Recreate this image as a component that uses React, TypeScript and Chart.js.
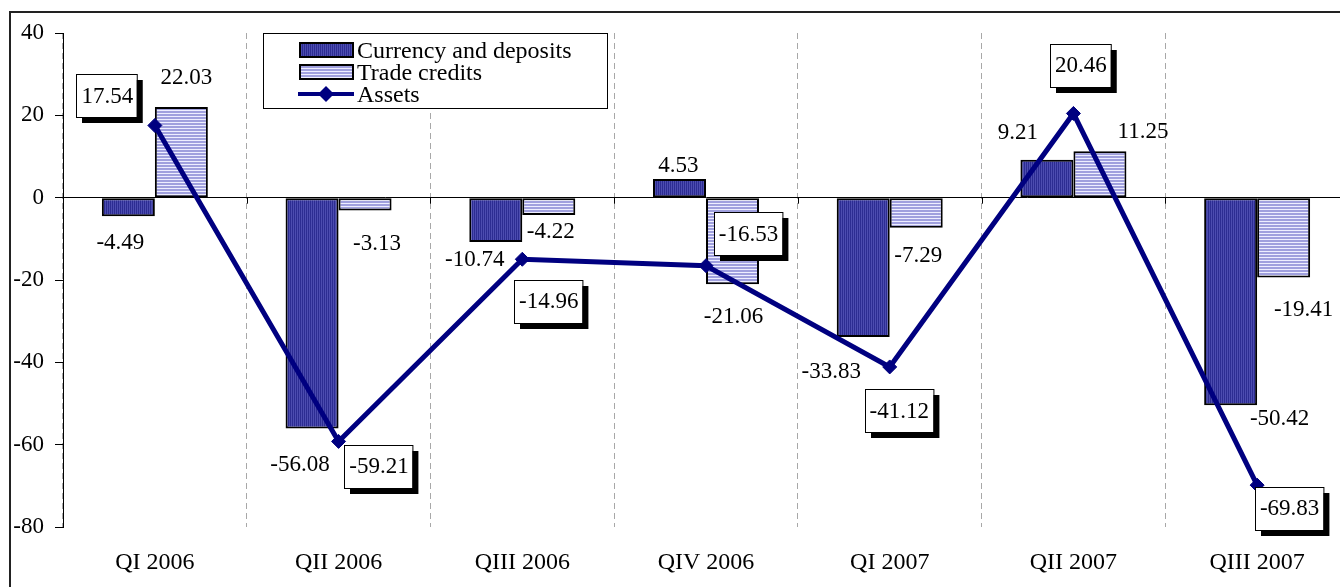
import React, { useEffect, useRef } from "react";
import { Chart, registerables } from "chart.js";

Chart.register(...registerables);

const categories = ["QI 2006", "QII 2006", "QIII 2006", "QIV 2006", "QI 2007", "QII 2007", "QIII 2007"];
const currencyDeposits = [-4.49, -56.08, -10.74, 4.53, -33.83, 9.21, -50.42];
const tradeCredits = [22.03, -3.13, -4.22, -21.06, -7.29, 11.25, -19.41];
const assets = [17.54, -59.21, -14.96, -16.53, -41.12, 20.46, -69.83];
const yTicks = [-80, -60, -40, -20, 0, 20, 40];

// label placement (pixel offsets from the mark), style only
const currencyLabelOffsets = [[-8, 27], [-12, 36], [-21, 18], [-1, -13], [-32, 35], [-29, -27], [49, 14]];
const tradeLabelOffsets = [[5, -29], [12, 33], [2, 17], [1, 33], [2, 28], [43, -19], [20, 32]];
const assetLabelOffsets = [[-48, -30], [40, 25], [26, 42], [42, -32], [9, 44], [7, -48], [32, 23]];

const SERIF = "'Liberation Serif', 'Times New Roman', serif";
const FONT = `23px ${SERIF}`;
const LEGEND_FONT = `24px ${SERIF}`;

function makePattern(kind: "v" | "h"): CanvasPattern | string {
  const c = document.createElement("canvas");
  const g = c.getContext("2d");
  if (!g) return kind === "v" ? "#333399" : "#c0c0ee";
  if (kind === "v") {
    c.width = 2;
    c.height = 2;
    g.fillStyle = "#2c2c92";
    g.fillRect(0, 0, 2, 2);
    g.fillStyle = "#4c4cb0";
    g.fillRect(1, 0, 1, 2);
  } else {
    c.width = 2;
    c.height = 3;
    g.fillStyle = "#a0a0de";
    g.fillRect(0, 0, 2, 3);
    g.fillStyle = "#eeeeff";
    g.fillRect(0, 2, 2, 1);
  }
  return g.createPattern(c, "repeat") as CanvasPattern;
}

const decorPlugin = {
  id: "decor",
  beforeDraw(chart: any) {
    const ctx = chart.ctx;
    ctx.save();
    ctx.fillStyle = "#ffffff";
    ctx.fillRect(0, 0, chart.width, chart.height);
    ctx.strokeStyle = "#222222";
    ctx.lineWidth = 2;
    ctx.beginPath();
    ctx.moveTo(10, chart.height);
    ctx.lineTo(10, 12);
    ctx.lineTo(chart.width, 12);
    ctx.stroke();
    ctx.restore();
  },
  afterDatasetsDraw(chart: any) {
    const ctx = chart.ctx;
    const ys = chart.scales.y;
    const area = chart.chartArea;
    const zeroY = ys.getPixelForValue(0);
    ctx.save();

    // small category ticks below zero line
    const n = categories.length;
    const step = (area.right - area.left) / n;
    ctx.strokeStyle = "#000";
    ctx.lineWidth = 1;
    for (let i = 1; i < n; i++) {
      const x = Math.round(area.left + i * step) + 0.5;
      ctx.beginPath();
      ctx.moveTo(x, zeroY);
      ctx.lineTo(x, zeroY + 6);
      ctx.stroke();
    }

    ctx.font = FONT;
    ctx.fillStyle = "#000";
    ctx.textAlign = "center";
    ctx.textBaseline = "middle";

    const byLabel: Record<string, number> = {};
    chart.data.datasets.forEach((ds: any, i: number) => (byLabel[ds.label] = i));

    const drawPlain = (dsIndex: number, values: number[], offs: number[][]) => {
      const meta = chart.getDatasetMeta(dsIndex);
      meta.data.forEach((el: any, i: number) => {
        ctx.fillText(values[i].toFixed(2), el.x + offs[i][0], el.y + offs[i][1]);
      });
    };
    drawPlain(byLabel["Currency and deposits"], currencyDeposits, currencyLabelOffsets);
    drawPlain(byLabel["Trade credits"], tradeCredits, tradeLabelOffsets);

    const am = chart.getDatasetMeta(byLabel["Assets"]);
    am.data.forEach((el: any, i: number) => {
      const txt = assets[i].toFixed(2);
      const w = ctx.measureText(txt).width + 9;
      const h = 43;
      const cx = el.x + assetLabelOffsets[i][0];
      const cy = el.y + assetLabelOffsets[i][1];
      const x0 = Math.round(cx - w / 2);
      const y0 = Math.round(cy - h / 2);
      ctx.fillStyle = "#000";
      ctx.fillRect(x0 + 6, y0 + 6, w, h);
      ctx.fillStyle = "#fff";
      ctx.fillRect(x0, y0, w, h);
      ctx.strokeStyle = "#000";
      ctx.lineWidth = 1;
      ctx.strokeRect(x0 + 0.5, y0 + 0.5, w, h);
      ctx.fillStyle = "#000";
      ctx.fillText(txt, cx + 0.5, cy + 1);
    });

    // legend
    ctx.lineWidth = 1;
    ctx.strokeStyle = "#000";
    ctx.fillStyle = "#fff";
    ctx.fillRect(263, 33, 344, 75);
    ctx.strokeRect(263.5, 33.5, 344, 75);
    const order = ["Currency and deposits", "Trade credits", "Assets"];
    const rows = [50, 72, 94];
    ctx.font = LEGEND_FONT;
    ctx.textAlign = "left";
    ctx.textBaseline = "alphabetic";
    order.forEach((lab, r) => {
      const ds = chart.data.datasets[byLabel[lab]];
      const cy = rows[r];
      if (ds.type === "line") {
        ctx.strokeStyle = ds.borderColor;
        ctx.lineWidth = 4;
        ctx.beginPath();
        ctx.moveTo(298, cy);
        ctx.lineTo(354, cy);
        ctx.stroke();
        ctx.fillStyle = ds.pointBackgroundColor;
        ctx.beginPath();
        ctx.moveTo(326, cy - 8);
        ctx.lineTo(334, cy);
        ctx.lineTo(326, cy + 8);
        ctx.lineTo(318, cy);
        ctx.closePath();
        ctx.fill();
      } else {
        ctx.fillStyle = ds.backgroundColor;
        ctx.fillRect(300, cy - 7, 53, 14);
        ctx.strokeStyle = "#000";
        ctx.lineWidth = 2;
        ctx.strokeRect(300, cy - 7, 53, 14);
      }
      ctx.fillStyle = "#000";
      ctx.fillText(lab, 357, cy + 8);
    });

    ctx.restore();
  },
};

export default function App() {
  const ref = useRef<HTMLCanvasElement | null>(null);

  useEffect(() => {
    if (!ref.current) return;
    Chart.defaults.font.family = SERIF;
    Chart.defaults.font.size = 23;
    Chart.defaults.color = "#000";

    const chart = new Chart(ref.current, {
      type: "bar",
      data: {
        labels: categories,
        datasets: [
          {
            type: "line",
            label: "Assets",
            data: assets,
            borderColor: "#000080",
            borderWidth: 5,
            pointStyle: "rectRot",
            pointRadius: 7,
            pointBackgroundColor: "#000080",
            pointBorderColor: "#000080",
            pointBorderWidth: 1,
            tension: 0,
            order: 0,
          } as any,
          {
            type: "bar",
            label: "Currency and deposits",
            data: currencyDeposits,
            backgroundColor: makePattern("v"),
            borderColor: "#000",
            borderWidth: 2,
            borderSkipped: false,
            categoryPercentage: 0.577,
            barPercentage: 1,
            order: 1,
          } as any,
          {
            type: "bar",
            label: "Trade credits",
            data: tradeCredits,
            backgroundColor: makePattern("h"),
            borderColor: "#000",
            borderWidth: 2,
            borderSkipped: false,
            categoryPercentage: 0.577,
            barPercentage: 1,
            order: 1,
          } as any,
        ],
      },
      options: {
        responsive: false,
        animation: false,
        events: [],
        devicePixelRatio: 1,
        layout: { autoPadding: false, padding: { top: 33, left: 0, right: 0, bottom: 0 } },
        plugins: {
          legend: { display: false },
          tooltip: { enabled: false },
          title: { display: false },
        },
        scales: {
          x: {
            offset: true,
            grid: {
              offset: true,
              color: "#a8a8a8",
              lineWidth: 1,
              drawTicks: false,
            },
            border: { display: false, dash: [6, 4] },
            ticks: { padding: 21, maxRotation: 0, font: { size: 24, family: SERIF }, color: "#000" },
            afterFit: (s: any) => {
              s.height = 60;
            },
          },
          y: {
            min: -80,
            max: 40,
            afterBuildTicks: (s: any) => {
              s.ticks = yTicks.map((v) => ({ value: v }));
            },
            grid: {
              color: (c: any) => (c.tick && c.tick.value === 0 ? "#000" : "rgba(0,0,0,0)"),
              tickColor: "#000",
              tickLength: 8,
              lineWidth: 1,
            },
            border: { display: true, color: "#000", width: 1 },
            ticks: { padding: 11, font: { size: 23, family: SERIF }, color: "#000" },
            afterFit: (s: any) => {
              s.width = 63;
            },
          },
        },
      },
      plugins: [decorPlugin],
    });
    return () => chart.destroy();
  }, []);

  return (
    <div style={{ position: "absolute", left: 0, top: 0, width: 1340, height: 587, overflow: "hidden", background: "#fff" }}>
      <canvas ref={ref} width={1349} height={587} style={{ display: "block" }} />
    </div>
  );
}
